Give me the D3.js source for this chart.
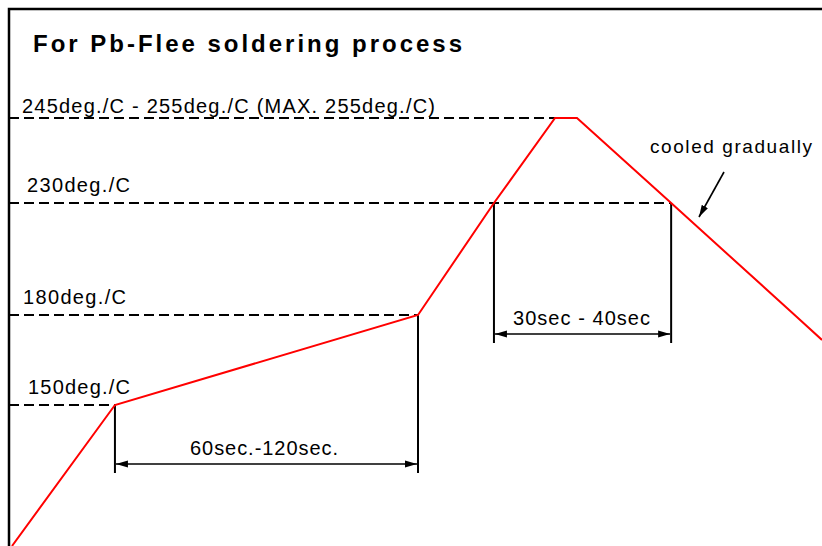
<!DOCTYPE html>
<html>
<head>
<meta charset="utf-8">
<script src="https://cdn.jsdelivr.net/npm/d3@7"></script>
<style>
  body { margin: 0; background: #fff; }
  svg { display: block; }
  text { font-family: "Liberation Sans", Arial, sans-serif; fill: #000; }
</style>
</head>
<body>
<script>
var width = 822, height = 546;

// reflow profile (schematic), time in sec, temperature in deg C
var profileTime = [0, 30.5, 120.3, 142.8, 160.9, 167.4, 195.3, 231.9, 240];
var profileTemp = [100, 150, 180, 230, 255, 255, 230, 180, 171.7];

// dashed reference levels
var refTemp = [150, 180, 230, 255];
var refEndTime = [30.5, 120.3, 195.3, 160.9];
var refLabels = ["150deg./C", "180deg./C", "230deg./C", "245deg./C - 255deg./C (MAX. 255deg./C)"];

// duration spans
var spanFrom = [30.5, 142.8];
var spanTo = [120.3, 195.3];
var spanLabels = ["60sec.-120sec.", "30sec - 40sec"];

var title = "For Pb-Flee soldering process";
var note = "cooled gradually";

var svg = d3.select("body")
            .append("svg")
            .attr("width", width)
            .attr("height", height);

//scales - the drawing is schematic so the temperature axis is piecewise
var xScale = d3.scaleLinear()
               .domain([0, 240])
               .range([12, 822]);

var yScale = d3.scaleLinear()
               .domain([100, 150, 180, 230, 255])
               .range([546, 405, 315, 203, 118]);

//markers
var defs = svg.append("defs");
defs.append("marker")
    .attr("id", "head")
    .attr("markerUnits", "userSpaceOnUse")
    .attr("viewBox", "0 -4 12 8")
    .attr("refX", 12)
    .attr("refY", 0)
    .attr("markerWidth", 12)
    .attr("markerHeight", 8)
    .attr("orient", "auto-start-reverse")
    .append("path")
    .attr("d", "M0,-3.5L12,0L0,3.5Z")
    .attr("fill", "#000");

//frame
svg.append("path")
   .attr("d", "M9," + height + "L9,9L" + width + ",9")
   .attr("fill", "none")
   .attr("stroke", "#000")
   .attr("stroke-width", 2.5);

//title
svg.append("text")
   .attr("x", 33)
   .attr("y", 52)
   .attr("font-size", 24)
   .attr("font-weight", "bold")
   .attr("textLength", 429)
   .attr("lengthAdjust", "spacing")
   .text(title);

//reference levels
var labelX = [28, 23, 27, 22];
var labelLen = [102, 103, 103, 413];
refTemp.forEach(function(t, i) {
  svg.append("line")
     .attr("x1", 9)
     .attr("x2", xScale(refEndTime[i]))
     .attr("y1", yScale(t))
     .attr("y2", yScale(t))
     .attr("stroke", "#000")
     .attr("stroke-width", 2)
     .attr("stroke-dasharray", "10,5");

  svg.append("text")
     .attr("x", labelX[i])
     .attr("y", yScale(t) - (i == 3 ? 5 : 11))
     .attr("font-size", 20)
     .attr("textLength", labelLen[i])
     .attr("lengthAdjust", "spacing")
     .text(refLabels[i]);
});

//duration spans
var spanBottom = [473, 343];
var arrowY = [464, 334];
var spanTextX = [190, 513];
var spanTextLen = [148, 137];
spanFrom.forEach(function(f, i) {
  var ends = [f, spanTo[i]];
  ends.forEach(function(t) {
    var j = profileTime.indexOf(t);
    svg.append("line")
       .attr("x1", xScale(t))
       .attr("x2", xScale(t))
       .attr("y1", yScale(profileTemp[j]))
       .attr("y2", spanBottom[i])
       .attr("stroke", "#000")
       .attr("stroke-width", 2);
  });

  svg.append("line")
     .attr("x1", xScale(f) + 1)
     .attr("x2", xScale(spanTo[i]) - 1)
     .attr("y1", arrowY[i])
     .attr("y2", arrowY[i])
     .attr("stroke", "#000")
     .attr("stroke-width", 1.6)
     .attr("marker-start", "url(#head)")
     .attr("marker-end", "url(#head)");

  svg.append("text")
     .attr("x", spanTextX[i])
     .attr("y", arrowY[i] - 9)
     .attr("font-size", 20)
     .attr("textLength", spanTextLen[i])
     .attr("lengthAdjust", "spacing")
     .text(spanLabels[i]);
});

//profile line
var line = d3.line()
             .x(function(d, i) { return xScale(profileTime[i]); })
             .y(function(d) { return yScale(d); });

svg.append("path")
   .datum(profileTemp)
   .attr("d", line)
   .attr("fill", "none")
   .attr("stroke", "#ff0000")
   .attr("stroke-width", 2);

//note
svg.append("text")
   .attr("x", 650)
   .attr("y", 153)
   .attr("font-size", 19)
   .attr("textLength", 162)
   .attr("lengthAdjust", "spacing")
   .text(note);

svg.append("line")
   .attr("x1", 724)
   .attr("y1", 172)
   .attr("x2", 699)
   .attr("y2", 217)
   .attr("stroke", "#000")
   .attr("stroke-width", 1.6)
   .attr("marker-end", "url(#head)");
</script>
</body>
</html>
